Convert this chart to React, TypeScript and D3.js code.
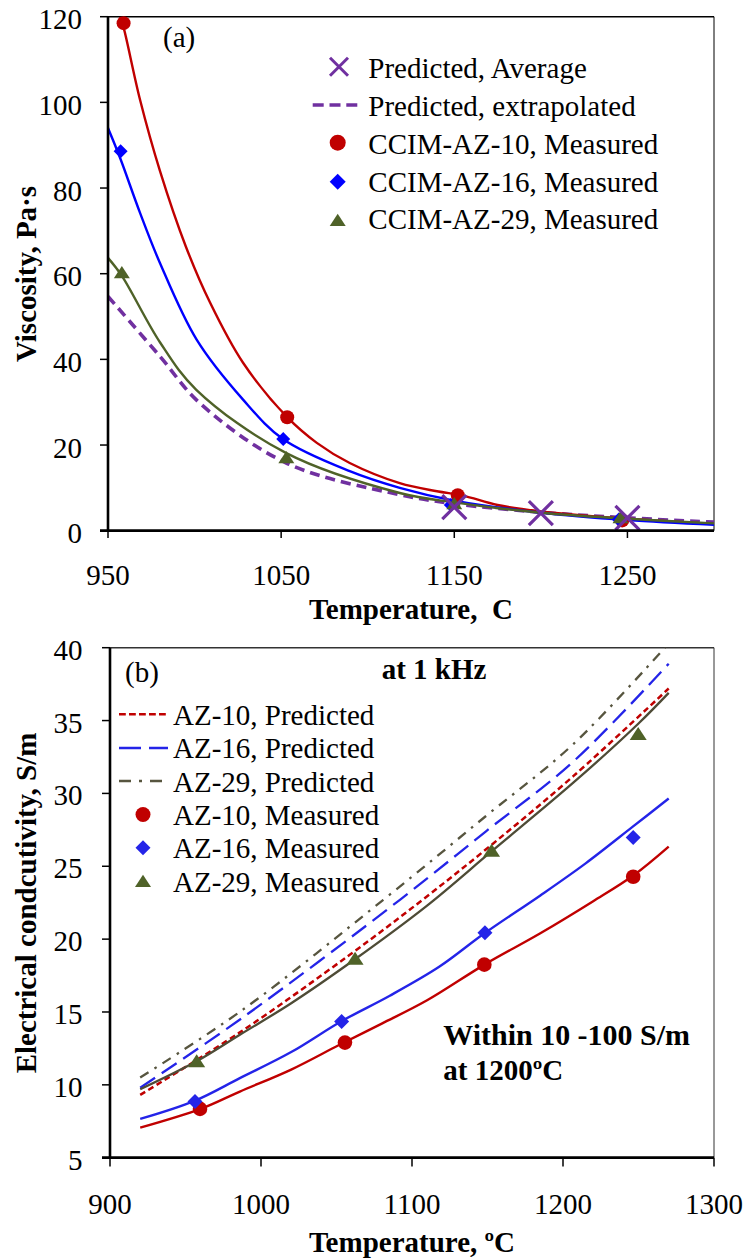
import React from "react";
import * as d3 from "d3";

// ---------- Panel (a): viscosity ----------
const viscXTicks = [950, 1050, 1150, 1250];
const viscYTicks = [0, 20, 40, 60, 80, 100, 120];

const fitAZ10T = [957, 959, 968.5, 980, 995, 1009, 1028, 1053.5, 1070.6, 1089.6, 1118.5, 1140, 1155, 1175, 1200, 1250, 1300];
const fitAZ10V = [120, 117.5, 100.6, 84, 66.3, 53.2, 39.2, 26.5, 20.5, 15.8, 11.1, 9.2, 8.2, 6.0, 4.5, 2.8, 1.6];
const fitAZ16T = [950, 957, 968.5, 980, 1001.2, 1028, 1051, 1089.6, 1118.5, 1150, 1200, 1250, 1300];
const fitAZ16V = [94, 87, 74.2, 62.5, 44.6, 30.6, 21.4, 13.9, 10.0, 7.0, 4.2, 2.5, 1.4];
const fitAZ29T = [950, 958, 980, 1001, 1053, 1118.5, 1150, 1200, 1250, 1300];
const fitAZ29V = [63.7, 59.5, 44, 32.9, 18.1, 8.8, 6.6, 4.2, 2.8, 1.7];
const extrapT = [950, 980, 1003, 1053, 1118.5, 1150, 1200, 1250, 1300];
const extrapV = [54.7, 40.7, 29.8, 15.8, 8.4, 6.3, 4.3, 3.0, 2.0];

const measAZ10T = [959, 1053.5, 1152, 1247];
const measAZ10V = [118.5, 26.5, 8.3, 2.4];
const measAZ16T = [957.3, 1051.2, 1148, 1245];
const measAZ16V = [88.6, 21.4, 6.0, 2.6];
const measAZ29T = [958, 1053, 1150, 1246];
const measAZ29V = [60.2, 17.0, 6.3, 3.0];
const predAvgT = [1150, 1200, 1250];
const predAvgV = [5.5, 4.1, 3.0];

const legendA = [
  "Predicted, Average",
  "Predicted, extrapolated",
  "CCIM-AZ-10, Measured",
  "CCIM-AZ-16, Measured",
  "CCIM-AZ-29, Measured",
];

// ---------- Panel (b): conductivity ----------
const condXTicks = [900, 1000, 1100, 1200, 1300];
const condYTicks = [5, 10, 15, 20, 25, 30, 35, 40];

const cFit10T = [920, 960, 986, 1020, 1052, 1080, 1110, 1148, 1185, 1220, 1247, 1270];
const cFit10V = [7.06, 8.35, 9.54, 11.05, 12.75, 14.2, 15.8, 18.25, 20.4, 22.6, 24.4, 26.35];
const cFit16T = [920, 956, 986, 1020, 1053, 1085, 1118, 1148, 1185, 1215, 1246, 1270];
const cFit16V = [7.66, 8.9, 10.46, 12.25, 14.35, 16.1, 18.1, 20.4, 23.0, 25.2, 27.7, 29.65];
const cFit29T = [920, 957, 986, 1020, 1062, 1110, 1153, 1207, 1250, 1270];
const cFit29V = [9.7, 11.6, 13.44, 15.6, 18.6, 22.3, 26.05, 30.75, 34.8, 36.9];
const cPred10T = [920, 986, 1059, 1107, 1153, 1207, 1270];
const cPred10V = [9.31, 13.6, 18.94, 22.7, 26.5, 31.2, 37.2];
const cPred16T = [920, 989, 1092, 1149, 1207, 1270];
const cPred16V = [9.8, 14.7, 22.7, 27.4, 32.2, 38.9];
const cPred29T = [920, 988, 1081, 1149, 1207, 1270];
const cPred29V = [10.5, 15.16, 22.7, 28.45, 33.4, 40.3];

const cMeas10T = [959.6, 1055.6, 1147.9, 1246.5];
const cMeas10V = [8.35, 12.9, 18.25, 24.28];
const cMeas16T = [956.3, 1053.4, 1148.3, 1246.5];
const cMeas16V = [8.85, 14.35, 20.43, 26.97];
const cMeas29T = [957.4, 1062.3, 1152.7, 1249.8];
const cMeas29V = [11.6, 18.64, 26.05, 34.07];

const legendB = [
  "AZ-10, Predicted",
  "AZ-16, Predicted",
  "AZ-29, Predicted",
  "AZ-10, Measured",
  "AZ-16, Measured",
  "AZ-29, Measured",
];

const RED = "#C00000";
const BLUE_A = "#0000FF";
const BLUE_B = "#2424E8";
const OLIVE = "#4F6228";
const PURPLE = "#7030A0";
const GREY_DD = "#57553F";
const GREY_SOLID = "#4E4B36";
const FONT = "Liberation Serif";

const zip = (xs: number[], ys: number[]) => xs.map((x, i) => [x, ys[i]] as [number, number]);

function T(props: any) {
  const { style, children, ...rest } = props;
  return (
    <text {...rest} fontFamily={FONT} style={{ fontFamily: FONT, ...(style || {}) }}>
      {children}
    </text>
  );
}

function Circle({ x, y, r, fill }: { x: number; y: number; r: number; fill: string }) {
  return <circle cx={x} cy={y} r={r} fill={fill} />;
}
function Diamond({ x, y, s, fill }: { x: number; y: number; s: number; fill: string }) {
  return <path d={`M${x},${y - s}L${x + s},${y}L${x},${y + s}L${x - s},${y}Z`} fill={fill} />;
}
function Tri({ x, y, s, fill }: { x: number; y: number; s: number; fill: string }) {
  const h = s * 0.85;
  return <path d={`M${x},${y - h}L${x + s},${y + h * 0.8}L${x - s},${y + h * 0.8}Z`} fill={fill} />;
}
function Cross({ x, y, s, stroke, w }: { x: number; y: number; s: number; stroke: string; w: number }) {
  return (
    <path d={`M${x - s},${y - s}L${x + s},${y + s}M${x - s},${y + s}L${x + s},${y - s}`} stroke={stroke} strokeWidth={w} fill="none" />
  );
}

export default function App() {
  const xa = d3.scaleLinear().domain([950, 1300]).range([108, 714]);
  const ya = d3.scaleLinear().domain([0, 120]).range([530.7, 16.7]);
  const lineA = d3
    .line<[number, number]>()
    .x((d) => xa(d[0]))
    .y((d) => ya(d[1]))
    .curve(d3.curveCatmullRom.alpha(0.5));

  const xb = d3.scaleLinear().domain([900, 1300]).range([110, 714]);
  const yb = d3.scaleLinear().domain([5, 40]).range([1157.7, 647.7]);
  const lineB = d3
    .line<[number, number]>()
    .x((d) => xb(d[0]))
    .y((d) => yb(d[1]))
    .curve(d3.curveCatmullRom.alpha(0.5));

  const fs = 29;

  return (
    <svg
      width={748}
      height={1260}
      viewBox="0 0 748 1260"
      style={{ position: "absolute", left: 0, top: 0, display: "block", background: "#fff" }}
    >
      <defs>
        <clipPath id="clipA">
          <rect x={108} y={16.7} width={606} height={514} />
        </clipPath>
        <clipPath id="clipB">
          <rect x={110} y={647.7} width={604} height={510} />
        </clipPath>
      </defs>
      <rect x={0} y={0} width={748} height={1260} fill="#fff" />

      {/* ================= Panel (a) ================= */}
      <line x1={108} x2={714} y1={16.7} y2={16.7} stroke="#000" strokeWidth={1.6} />
      <line x1={714} x2={714} y1={16.7} y2={530.7} stroke="#000" strokeWidth={1} />
      {viscYTicks.map((t) => (
        <g key={"ya" + t}>
          <line x1={100} x2={108} y1={ya(t)} y2={ya(t)} stroke="#000" strokeWidth={1.5} />
          <T x={82} y={ya(t) + 12.5} fontSize={fs} textAnchor="end">
            {t}
          </T>
        </g>
      ))}
      {viscXTicks.map((t) => (
        <g key={"xa" + t}>
          <line x1={xa(t)} x2={xa(t)} y1={530.7} y2={538} stroke="#000" strokeWidth={1.5} />
          <T x={xa(t)} y={585} fontSize={fs} textAnchor="middle">
            {t}
          </T>
        </g>
      ))}

      <g clipPath="url(#clipA)" fill="none">
        <path d={lineA(zip(extrapT, extrapV)) || ""} stroke={PURPLE} strokeWidth={3.6} strokeDasharray="10 6" />
        <path d={lineA(zip(fitAZ10T, fitAZ10V)) || ""} stroke={RED} strokeWidth={2.4} />
        <path d={lineA(zip(fitAZ16T, fitAZ16V)) || ""} stroke={BLUE_A} strokeWidth={2.4} />
        <path d={lineA(zip(fitAZ29T, fitAZ29V)) || ""} stroke={OLIVE} strokeWidth={2.4} />
      </g>
      {zip(measAZ10T, measAZ10V).map((d, i) => (
        <Circle key={"ma10" + i} x={xa(d[0])} y={ya(d[1])} r={7} fill={RED} />
      ))}
      {zip(measAZ16T, measAZ16V).map((d, i) => (
        <Diamond key={"ma16" + i} x={xa(d[0])} y={ya(d[1])} s={7} fill={BLUE_A} />
      ))}
      {zip(measAZ29T, measAZ29V).map((d, i) => (
        <Tri key={"ma29" + i} x={xa(d[0])} y={ya(d[1])} s={8} fill={OLIVE} />
      ))}
      {zip(predAvgT, predAvgV).map((d, i) => (
        <Cross key={"pa" + i} x={xa(d[0])} y={ya(d[1])} s={12} stroke={PURPLE} w={3.2} />
      ))}

      <line x1={108} x2={108} y1={16.7} y2={530.7} stroke="#000" strokeWidth={2.6} />
      <line x1={100} x2={714} y1={530.7} y2={530.7} stroke="#000" strokeWidth={2.8} />

      <T x={163} y={47} fontSize={fs}>(a)</T>

      <g>
        <Cross x={339} y={66.7} s={9} stroke={PURPLE} w={3} />
        <line x1={312.7} x2={357.3} y1={105} y2={105} stroke={PURPLE} strokeWidth={3.6} strokeDasharray="11 5.8" />
        <Circle x={337.7} y={142.7} r={8} fill={RED} />
        <Diamond x={337.7} y={181.7} s={8} fill={BLUE_A} />
        <Tri x={337.7} y={220.5} s={8} fill={OLIVE} />
        {legendA.map((s, i) => (
          <T key={"la" + i} x={368.3} y={78.3 + i * 37.75} fontSize={fs}>
            {s}
          </T>
        ))}
      </g>

      <T x={411} y={619} fontSize={fs} fontWeight="bold" textAnchor="middle" style={{ whiteSpace: "pre" }}>
        {"Temperature,  C"}
      </T>
      <T transform="translate(36,274) rotate(-90)" fontSize={fs} fontWeight="bold" textAnchor="middle">
        Viscosity, Pa·s
      </T>

      {/* ================= Panel (b) ================= */}
      <line x1={110} x2={714} y1={647.7} y2={647.7} stroke="#333" strokeWidth={1.4} />
      <line x1={714} x2={714} y1={647.7} y2={1157.7} stroke="#333" strokeWidth={1} />
      {condYTicks.map((t) => (
        <g key={"yb" + t}>
          <line x1={102} x2={110} y1={yb(t)} y2={yb(t)} stroke="#000" strokeWidth={1.5} />
          <T x={82.5} y={yb(t) + 12} fontSize={fs} textAnchor="end">
            {t}
          </T>
        </g>
      ))}
      {condXTicks.map((t) => (
        <g key={"xb" + t}>
          <line x1={xb(t)} x2={xb(t)} y1={1157.7} y2={1166.5} stroke="#000" strokeWidth={1.5} />
          <T x={xb(t)} y={1214} fontSize={fs} textAnchor="middle">
            {t}
          </T>
        </g>
      ))}

      <g clipPath="url(#clipB)" fill="none">
        <path d={lineB(zip(cPred29T, cPred29V)) || ""} stroke={GREY_DD} strokeWidth={2.3} strokeDasharray="10 7 2.5 7" />
        <path d={lineB(zip(cPred16T, cPred16V)) || ""} stroke={BLUE_B} strokeWidth={2.3} strokeDasharray="18 8" />
        <path d={lineB(zip(cPred10T, cPred10V)) || ""} stroke={RED} strokeWidth={2.5} strokeDasharray="6 3.6" />
        <path d={lineB(zip(cFit29T, cFit29V)) || ""} stroke={GREY_SOLID} strokeWidth={2.3} />
        <path d={lineB(zip(cFit16T, cFit16V)) || ""} stroke={BLUE_B} strokeWidth={2.4} />
        <path d={lineB(zip(cFit10T, cFit10V)) || ""} stroke={RED} strokeWidth={2.4} />
      </g>
      {zip(cMeas10T, cMeas10V).map((d, i) => (
        <Circle key={"mb10" + i} x={xb(d[0])} y={yb(d[1])} r={7.3} fill={RED} />
      ))}
      {zip(cMeas16T, cMeas16V).map((d, i) => (
        <Diamond key={"mb16" + i} x={xb(d[0])} y={yb(d[1])} s={7.5} fill={BLUE_B} />
      ))}
      {zip(cMeas29T, cMeas29V).map((d, i) => (
        <Tri key={"mb29" + i} x={xb(d[0])} y={yb(d[1])} s={8.5} fill={OLIVE} />
      ))}

      <line x1={110} x2={110} y1={647.7} y2={1157.7} stroke="#000" strokeWidth={2.6} />
      <line x1={102} x2={714} y1={1157.7} y2={1157.7} stroke="#000" strokeWidth={2.8} />

      <T x={125} y={682} fontSize={fs}>(b)</T>
      <T x={381.7} y={679} fontSize={fs} fontWeight="bold">at 1 kHz</T>

      <g>
        <line x1={119} x2={168} y1={714.3} y2={714.3} stroke={RED} strokeWidth={2.6} strokeDasharray="6.8 3.2" />
        <line x1={119} x2={168} y1={748} y2={748} stroke={BLUE_B} strokeWidth={2.6} strokeDasharray="22 8" />
        <line x1={119} x2={168} y1={781} y2={781} stroke={GREY_DD} strokeWidth={2.6} strokeDasharray="12 8 3 8" />
        <Circle x={143} y={814.5} r={7.5} fill={RED} />
        <Diamond x={143} y={847.8} s={7.5} fill={BLUE_B} />
        <Tri x={143} y={881.5} s={8} fill={OLIVE} />
        {legendB.map((s, i) => (
          <T key={"lb" + i} x={173} y={725 + i * 33.33} fontSize={fs}>
            {s}
          </T>
        ))}
      </g>

      <T x={443.3} y={1045} fontSize={fs} fontWeight="bold" textLength={246.7} lengthAdjust="spacingAndGlyphs">
        Within 10 -100 S/m
      </T>
      <T x={443.3} y={1080} fontSize={fs} fontWeight="bold">
        at 1200ºC
      </T>

      <T x={412} y={1252} fontSize={fs} fontWeight="bold" textAnchor="middle">
        Temperature, ºC
      </T>
      <T transform="translate(36,903) rotate(-90)" fontSize={fs} fontWeight="bold" textAnchor="middle">
        Electrical condcutivity, S/m
      </T>
    </svg>
  );
}
